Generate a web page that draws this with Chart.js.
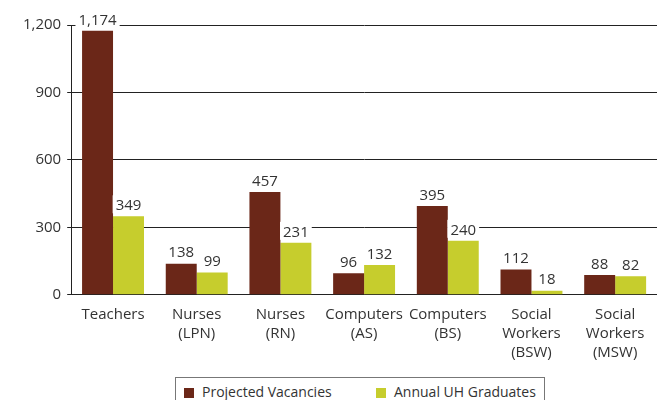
<!DOCTYPE html>
<html>
<head>
<meta charset="utf-8">
<script src="https://cdn.jsdelivr.net/npm/chart.js@4"></script>
<style>
  body { margin: 0; background: #fff; }
  #wrap { position: relative; width: 657px; height: 400px; overflow: hidden; }
  #box { position: absolute; left: 0; top: 0; width: 657px; height: 365px; }
  #legend { position: absolute; left: 175px; top: 377px; width: 370px; height: 30px;
    border: 1px solid #777; box-sizing: border-box; font-family: "Open Sans", sans-serif;
    font-size: 14px; color: #333; }
  .item { position: absolute; top: 4px; line-height: 19px; white-space: nowrap; }
  .sw { display: inline-block; width: 10px; height: 10px; margin-right: 8px; vertical-align: -1px; }
</style>
</head>
<body>
<div id="wrap">
  <div id="box"><canvas id="chart"></canvas></div>
  <div id="legend"></div>
</div>
<script>
const categories = [
  'Teachers', ['Nurses', '(LPN)'], ['Nurses', '(RN)'], ['Computers', '(AS)'],
  ['Computers', '(BS)'], ['Social', 'Workers', '(BSW)'], ['Social', 'Workers', '(MSW)']
]
const projectedVacancies = [1174, 138, 457, 96, 395, 112, 88]
const annualGraduates = [349, 99, 231, 132, 240, 18, 82]
const seriesNames = ['Projected Vacancies', 'Annual UH Graduates']
const seriesColors = ['#6b2718', '#c6cd2d']
const yTicks = [0, 300, 600, 900, 1200]

const valueLabels = {
  id: 'valueLabels',
  afterDatasetsDraw(chart) {
    const ctx = chart.ctx
    ctx.save()
    ctx.font = '15px "Open Sans", sans-serif'
    ctx.textAlign = 'center'
    ctx.textBaseline = 'bottom'
    chart.data.datasets.forEach((ds, i) => {
      chart.getDatasetMeta(i).data.forEach((bar, j) => {
        const text = ds.data[j].toLocaleString('en-US')
        const w = ctx.measureText(text).width
        const y = bar.y - 4
        ctx.fillStyle = '#fff'
        ctx.fillRect(bar.x - w / 2 - 3, y - 17, w + 6, 18)
        ctx.fillStyle = '#333'
        ctx.fillText(text, bar.x, y + 1)
      })
    })
    ctx.restore()
  }
}

const context = document.getElementById('chart').getContext('2d')
const chart = new Chart(context, {
  type: 'bar',
  data: {
    labels: categories,
    datasets: [{
      label: seriesNames[0],
      backgroundColor: seriesColors[0],
      data: projectedVacancies,
    }, {
      label: seriesNames[1],
      backgroundColor: seriesColors[1],
      data: annualGraduates,
    }],
  },
  options: {
    responsive: true,
    maintainAspectRatio: false,
    animation: false,
    layout: { padding: { top: 25, right: 0, left: 17, bottom: 0 } },
    datasets: { bar: { barPercentage: 1, categoryPercentage: 0.74 } },
    plugins: {
      legend: { display: false },
      tooltip: { enabled: false },
    },
    scales: {
      x: {
        grid: { display: false },
        border: { display: true, color: '#222', width: 1 },
        ticks: { color: '#333', font: { family: '"Open Sans", sans-serif', size: 15, lineHeight: 1.25 }, maxRotation: 0, autoSkip: false },
      },
      y: {
        min: 0,
        max: 1200,
        afterBuildTicks(axis) { axis.ticks = yTicks.map(v => ({ value: v })) },
        grid: { color: '#222', lineWidth: 1, tickLength: 4, drawOnChartArea: true },
        border: { display: true, color: '#222', width: 1 },
        ticks: {
          color: '#333',
          padding: 6,
          font: { family: '"Open Sans", sans-serif', size: 15 },
          callback: v => v.toLocaleString('en-US'),
        },
      },
    },
  },
  plugins: [valueLabels],
})

const legend = document.getElementById('legend')
const lefts = [8, 200]
seriesNames.forEach((name, i) => {
  const item = document.createElement('div')
  item.className = 'item'
  item.style.left = lefts[i] + 'px'
  item.innerHTML = '<span class="sw" style="background:' + seriesColors[i] + '"></span>' + name
  legend.appendChild(item)
})
</script>
</body>
</html>
